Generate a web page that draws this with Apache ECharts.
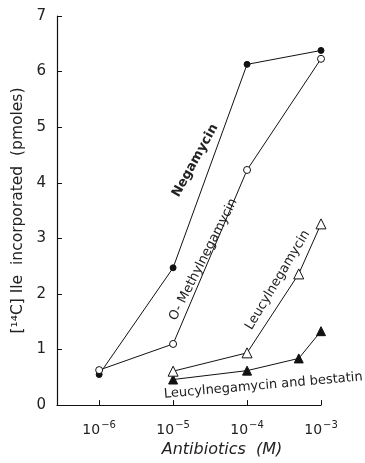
<!DOCTYPE html>
<html><head><meta charset="utf-8">
<script src="https://cdn.jsdelivr.net/npm/echarts@6/dist/echarts.min.js"></script>
<style>html,body{margin:0;padding:0;background:#fff}#c{width:365px;height:463px}</style>
</head><body><div id="c"></div>
<script>
// x values are log10 of molar concentration
const negamycinX = [-6, -5, -4, -3];
const negamycinY = [0.55, 2.47, 6.13, 6.38];
const methylX = [-6, -5, -4, -3];
const methylY = [0.63, 1.10, 4.23, 6.23];
const leucylX = [-5, -4, Math.log10(5e-4), -3];
const leucylY = [0.61, 0.94, 2.36, 3.26];
const bestatinX = [-5, -4, Math.log10(5e-4), -3];
const bestatinY = [0.46, 0.62, 0.84, 1.33];
const xTickExps = [-6, -5, -4, -3];
const yTicks = [0, 1, 2, 3, 4, 5, 6, 7];
const curveLabels = ['Negamycin', 'O- Methylnegamycin', 'Leucylnegamycin', 'Leucylnegamycin and bestatin'];
const labelAnchors = [[-4.70, 4.40], [-4.59, 2.62], [-3.585, 2.25], [-3.78, 0.35]];

const F = 'DejaVu Sans';
const zip = (xs, ys) => xs.map((x, i) => [x, ys[i]]);
function ser(name, xs, ys, symbol, filled, size) {
  return {
    name, type: 'line', data: zip(xs, ys), symbol, symbolSize: size,
    lineStyle: {color: '#111', width: 1},
    itemStyle: {color: filled ? '#111' : '#fff', borderColor: '#111', borderWidth: 1},
    emphasis: {disabled: true}, z: filled ? 3 : 4, animation: false
  };
}
const chart = echarts.init(document.getElementById('c'));
chart.setOption({
  animation: false,
  grid: {left: 57, right: 44, top: 16, bottom: 55, containLabel: false},
  xAxis: {
    type: 'value', min: -6.57, max: -3,
    axisLine: {lineStyle: {color: '#111', width: 1.2}},
    splitLine: {show: false},
    axisTick: {show: true, inside: true, length: 5, customValues: xTickExps, lineStyle: {color: '#111'}},
    axisLabel: {
      customValues: xTickExps, margin: 15,
      formatter: v => '{b|10}{s|' + String(v).replace('-', '−') + '}',
      rich: {b: {fontFamily: F, fontSize: 14, color: '#222'}, s: {fontFamily: F, fontSize: 10, color: '#222', padding: [0, 0, 10, 1]}}
    },
    name: 'Antibiotics  (M)', nameLocation: 'middle', nameGap: 36,
    nameTextStyle: {fontFamily: F, fontSize: 16, fontStyle: 'italic', color: '#222', padding: [0, 0, 0, 66]}
  },
  yAxis: {
    type: 'value', min: 0, max: 7, interval: 1,
    axisLine: {show: true, lineStyle: {color: '#111', width: 1.2}},
    splitLine: {show: false},
    axisTick: {show: true, inside: true, length: 5, lineStyle: {color: '#111'}},
    axisLabel: {fontFamily: F, fontSize: 15, color: '#222', margin: 11,
      formatter: v => yTicks.includes(v) ? String(v) : ''},
    name: '[¹⁴C] Ile  incorporated  (pmoles)', nameLocation: 'middle', nameGap: 25,
    nameTextStyle: {fontFamily: F, fontSize: 15.5, color: '#222'}
  },
  series: [
    ser('Negamycin', negamycinX, negamycinY, 'circle', true, 6),
    ser('O-Methylnegamycin', methylX, methylY, 'circle', false, 7),
    ser('Leucylnegamycin', leucylX, leucylY, 'triangle', false, 10),
    ser('Leucylnegamycin and bestatin', bestatinX, bestatinY, 'triangle', true, 9)
  ]
});
const rots = [61, 63, 59, 5];
const weights = ['bold', 'normal', 'normal', 'normal'];
const sizes = [13, 13, 13, 13];
const graphics = curveLabels.map((t, i) => {
  const p = chart.convertToPixel({gridIndex: 0}, labelAnchors[i]);
  return {type: 'text', x: p[0], y: p[1], rotation: rots[i] * Math.PI / 180,
    style: {text: t, fontFamily: F, fontSize: sizes[i], fontWeight: weights[i], fill: '#222', align: 'center', verticalAlign: 'middle'}};
});
chart.setOption({graphic: graphics});
</script></body></html>
